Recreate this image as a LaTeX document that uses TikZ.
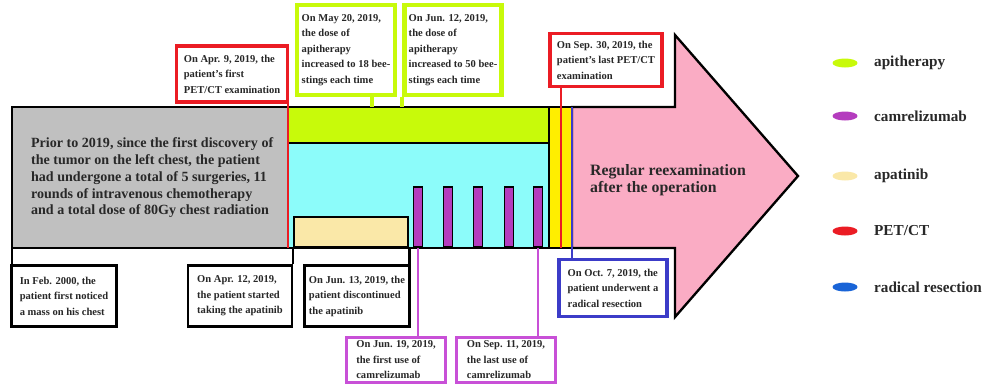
\documentclass[tikz,border=0pt]{standalone}
\usepackage{fontspec}
\setmainfont{Liberation Serif}
\usetikzlibrary{shapes.geometric}
\definecolor{apicol}{RGB}{200,250,10}
\definecolor{cyancol}{RGB}{140,252,250}
\definecolor{graycol}{RGB}{192,192,192}
\definecolor{pinkcol}{RGB}{250,172,196}
\definecolor{yellowcol}{RGB}{255,238,0}
\definecolor{apatcol}{RGB}{250,232,168}
\definecolor{camcol}{RGB}{180,60,190}
\definecolor{camline}{RGB}{200,80,215}
\definecolor{petcol}{RGB}{235,28,36}
\definecolor{rescol}{RGB}{60,60,200}
\definecolor{legres}{RGB}{25,100,215}
\definecolor{txtcol}{RGB}{40,40,40}
\newcommand{\pxu}{0.03cm}
\tikzset{
    evbox/.style={draw, fill=white, align=left, inner sep=0pt,
        font=\bfseries\fontsize{9}{13.2}\selectfont, text=txtcol},
    region/.style={draw, line width=2pt},
    legdot/.style={ellipse, minimum width=25*\pxu, minimum height=9*\pxu, inner sep=0pt},
    legtext/.style={anchor=west, font=\bfseries\fontsize{13}{15}\selectfont, text=txtcol}
}
\begin{document}
\begin{tikzpicture}[x=0.03cm,y=-0.03cm]
    \useasboundingbox (0,0) rectangle (988,385);
    % the time line
    \draw[region, fill=pinkcol] (572,107) -- (675,107) -- (675,35) -- (798,176)
        -- (675,317) -- (675,248) -- (572,248) -- cycle;
    \draw[region, fill=graycol] (12,107) rectangle (288,248);
    \draw[region, fill=cyancol] (288,143) rectangle (549,248);
    \draw[region, fill=apicol] (288,107) rectangle (549,143);
    \draw[region, fill=yellowcol] (549,107) rectangle (572,248);
    \node[draw, line width=2pt, fill=apatcol, minimum width=114*\pxu, minimum height=30*\pxu,
        inner sep=0pt, anchor=south west] (apat) at (293,248) {};
    \foreach \i/\x in {1/418,2/448,3/478,4/509,5/538}
        \node[draw, line width=1.5pt, fill=camcol, minimum width=9*\pxu, minimum height=60*\pxu,
            inner sep=0pt, anchor=south] (bar\i) at (\x,248) {};
    \coordinate (bodytop) at (0,107);
    \coordinate (bodybot) at (0,248);
    \coordinate (pet1) at (288,248);
    \coordinate (pet2) at (561,248);
    \coordinate (res) at (572,107);
    \coordinate (api1) at (372,107);
    \coordinate (left) at (12,248);

    \node[anchor=west, align=left, font=\bfseries\fontsize{12}{14.3}\selectfont, text=txtcol] (prior)
        at (27,178) {Prior to 2019, since the first discovery of\\the tumor on the left chest, the patient\\had undergone a total of 5 surgeries, 11\\rounds of intravenous chemotherapy\\and a total dose of 80Gy chest radiation};
    \node[anchor=west, align=left, font=\bfseries\fontsize{13.5}{14.5}\selectfont, text=txtcol] (regular)
        at (586,180) {Regular reexamination\\after the operation};

    % events
    \node[evbox, draw=petcol, line width=3pt, minimum width=111*\pxu, minimum height=56*\pxu]
        (apr9) at (232,74) {On Apr. 9, 2019, the\\patient's first\\PET/CT examination};
    \node[evbox, draw=apicol, line width=4pt, minimum width=98*\pxu, minimum height=90*\pxu]
        (may20) at (346,50) {On May 20, 2019,\\the dose of\\apitherapy\\increased to 18 bee-\\stings each time};
    \node[evbox, draw=apicol, line width=4pt, minimum width=97*\pxu, minimum height=90*\pxu]
        (jun12) at (453,50) {On Jun. 12, 2019,\\the dose of\\apitherapy\\increased to 50 bee-\\stings each time};
    \node[evbox, draw=petcol, line width=3pt, minimum width=112*\pxu, minimum height=53*\pxu]
        (sep30) at (606,60) {On Sep. 30, 2019, the\\patient's last PET/CT\\examination};
    \node[evbox, line width=2.2pt, minimum width=105*\pxu, minimum height=61*\pxu]
        (feb) at (64,296) {In Feb. 2000, the\\patient first noticed\\a mass on his chest};
    \node[evbox, line width=2.2pt, minimum width=104*\pxu, minimum height=61*\pxu]
        (apr12) at (240,296) {On Apr. 12, 2019,\\the patient started\\taking the apatinib};
    \node[evbox, line width=2.2pt, minimum width=105*\pxu, minimum height=61*\pxu]
        (jun13) at (357,296) {On Jun. 13, 2019, the\\patient discontinued\\the apatinib};
    \node[evbox, draw=camline, line width=2pt, minimum width=99*\pxu, minimum height=45*\pxu]
        (jun19) at (396,360) {On Jun. 19, 2019,\\the first use of\\camrelizumab};
    \node[evbox, draw=camline, line width=2pt, minimum width=99*\pxu, minimum height=45*\pxu]
        (sep11) at (506,360) {On Sep. 11, 2019,\\the last use of\\camrelizumab};
    \node[evbox, draw=rescol, line width=3pt, minimum width=108*\pxu, minimum height=57*\pxu]
        (oct7) at (613,288) {On Oct. 7, 2019, the\\patient underwent a\\radical resection};

    % connectors
    \draw[petcol, line width=2.5pt] (apr9.south -| pet1) -- (pet1);
    \draw[petcol, line width=2.5pt] (sep30.south -| pet2) -- (pet2);
    \draw[rescol, line width=2pt] (res) -- (oct7.north -| res);
    \draw[apicol, line width=3.5pt] (may20.south -| api1) -- (api1);
    \draw[apicol, line width=3.5pt] (jun12.south west) -- (jun12.south west |- bodytop);
    \draw[line width=2.2pt] (left) -- (feb.north -| left);
    \draw[line width=2.2pt] (apat.south west) -- (apat.south west |- apr12.north);
    \draw[line width=2.2pt] (apat.south east) -- (apat.south east |- jun13.north);
    \draw[camline, line width=1.5pt] (bar1.south) -- (jun19.north -| bar1.south);
    \draw[camline, line width=1.5pt] (bar5.south) -- (sep11.north -| bar5.south);

    % legend
    \foreach \i/\y/\c/\t in {1/63/apicol/apitherapy, 2/116/camcol/camrelizumab,
            3/176/apatcol/apatinib, 4/231/petcol/{PET/CT}, 5/287/legres/{radical resection}} {
        \node[legdot, fill=\c] (leg\i) at (845,\y) {};
        \node[legtext] (legt\i) at (870,\y) {\t};
    }
\end{tikzpicture}
\end{document}
